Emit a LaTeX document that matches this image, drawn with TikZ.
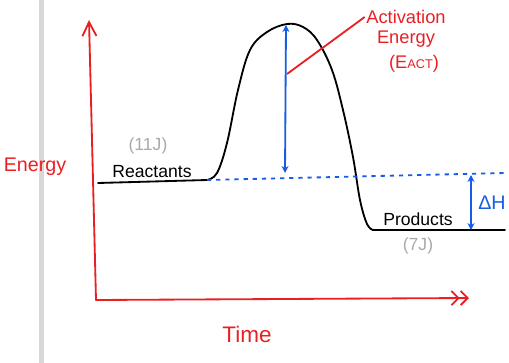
\documentclass[tikz,border=0pt]{standalone}
\usepackage{fontspec}
\setmainfont{Liberation Sans}
\usepackage{xcolor}
\usetikzlibrary{positioning,calc,arrows.meta}

\definecolor{penred}{RGB}{232,32,36}
\definecolor{penblue}{RGB}{22,92,228}
\definecolor{pengray}{RGB}{170,170,170}
\definecolor{margingray}{RGB}{216,216,216}

\begin{document}
\begin{tikzpicture}[x=0.025cm, y=-0.025cm,
    axis/.style={penred, line width=1.3pt, line cap=round},
    level/.style={black, line width=1.3pt, line cap=round},
    guide/.style={penblue, line width=1.3pt, <->, >={Stealth[length=5pt,width=5pt]}},
    redtext/.style={text=penred, inner sep=1pt, font=\fontsize{13}{15}\selectfont},
    graytext/.style={text=pengray, font=\fontsize{12.5}{14}\selectfont, inner sep=1pt},
    labeltext/.style={font=\fontsize{12.5}{14}\selectfont, inner sep=1pt}]

    \useasboundingbox (0,0) rectangle (509,363);
    \fill[margingray] (39,0) rectangle (44,363);

    % axes
    \coordinate (origin) at (96,300);
    \coordinate (ytop) at (89,20);
    \coordinate (xend) at (469,298);
    \draw[axis, -{Straight Barb[length=10pt,width=10pt]}] (origin) -- (ytop);
    \draw[axis, -{Straight Barb[length=5pt,width=10pt] Straight Barb[length=5pt,width=10pt]}] (origin) -- (xend);
    \node[redtext, font=\fontsize{14}{16}\selectfont] (energy) at (35,167) {Energy};
    \node[redtext, font=\fontsize{16}{18}\selectfont] (time) at (247,334) {Time};

    % energy profile
    \coordinate (rstart) at (98,183);
    \coordinate (rend) at (207,180);
    \coordinate (pstart) at (373,230);
    \coordinate (pend) at (505,230);
    \draw[level] (rstart) -- (rend);
    \draw[level] plot[smooth, tension=0.6] coordinates {(rend) (217,173) (227,143) (238,90) (250,50)
        (267,32) (287,24) (303,27) (317,40) (332,70) (343,110) (353,157) (360,200) (367,224) (pstart)};
    \draw[level] (pstart) -- (pend);

    \node[labeltext] (reactants) at (152,172) {Reactants};
    \node[graytext] (rnum) at (148,146) {(11J)};
    \node[labeltext] (products) at (418,219) {Products};
    \node[graytext] (pnum) at (418,246) {(7J)};

    % reactant level and arrows
    \coordinate (dashend) at (505,173);
    \draw[penblue, line width=1.3pt, dash pattern=on 3pt off 3.5pt] (rend) -- (dashend);
    \coordinate (peak) at (286,25);
    \coordinate (base) at (285,173);
    \draw[guide] (peak) -- (base);
    \coordinate (dhtop) at (471,175);
    \coordinate (dhbot) at (471,230);
    \draw[guide] (dhtop) -- (dhbot);
    \node[text=penblue, font=\fontsize{14}{16}\selectfont, inner sep=1pt] (dh) at (492,203) {ΔH};

    % activation energy label
    \node[redtext] (act1) at (406,17) {Activation};
    \node[redtext] (act2) at (406,39) {Energy};
    \node[redtext] (act3) at (414,64) {(E{\small ACT})};
    \coordinate (leadpt) at (287,74);
    \draw[penred, line width=1.3pt] (act1.west) -- (leadpt);
\end{tikzpicture}
\end{document}
